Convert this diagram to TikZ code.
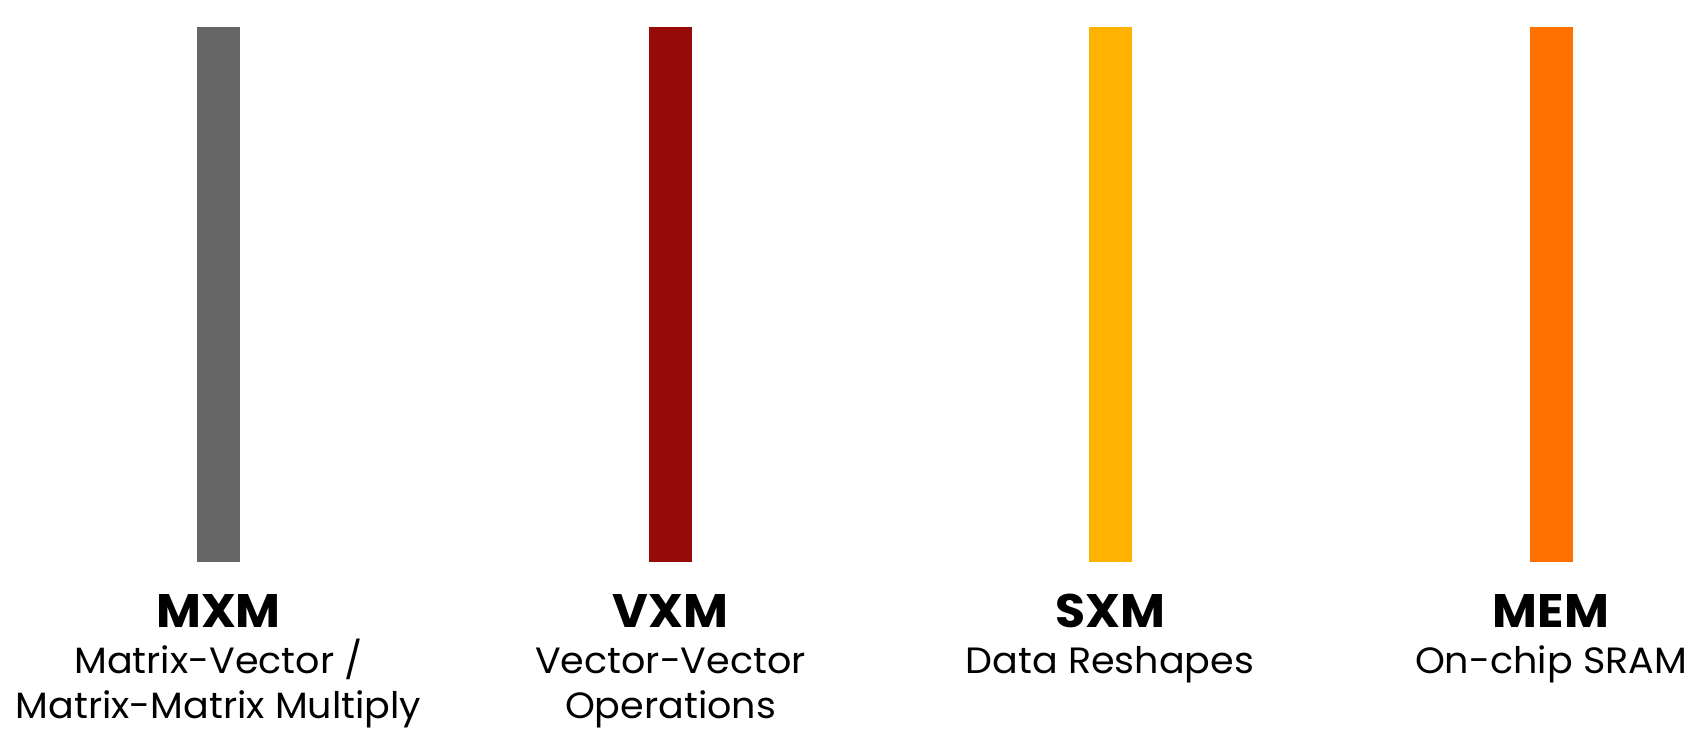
\documentclass[tikz,border=0pt]{standalone}
\usepackage{fontspec}
\setmainfont{Poppins}[FakeStretch=1.04]
\definecolor{mxmgray}{HTML}{666666}
\definecolor{vxmred}{HTML}{960A07}
\definecolor{sxmyellow}{HTML}{FFB300}
\definecolor{memorange}{HTML}{FF7000}
\tikzset{
  bar/.style={draw=none, minimum width=21.5pt, minimum height=267.5pt, inner sep=0pt},
  head/.style={anchor=base, inner sep=0pt, font=\fontsize{23.5}{28}\selectfont\bfseries},
  sub/.style={anchor=base, inner sep=0pt, font=\fontsize{18.3}{22}\selectfont},
}
\begin{document}
\begin{tikzpicture}[x=0.5pt, y=-0.5pt]
\useasboundingbox (0,0) rectangle (1702,733);
\fill[white] (0,0) rectangle (1702,733);
% bars
\node[bar, fill=mxmgray] (mxmbar) at (218.5,294.5) {};
\node[bar, fill=vxmred] (vxmbar) at (670.5,294.5) {};
\node[bar, fill=sxmyellow] (sxmbar) at (1110,294.5) {};
\node[bar, fill=memorange] (membar) at (1551,294.5) {};
% headings
\node[head] (mxm) at (218.5,627) {MXM};
\node[head] (vxm) at (670.5,627) {VXM};
\node[head] (sxm) at (1110,627) {SXM};
\node[head] (mem) at (1551,627) {MEM};
% descriptions
\node[sub] (mxm1) at (218.5,673) {Matrix-Vector /};
\node[sub] (mxm2) at (218.5,718) {Matrix-Matrix Multiply};
\node[sub] (vxm1) at (670.5,673) {Vector-Vector};
\node[sub] (vxm2) at (670.5,718) {Operations};
\node[sub] (sxm1) at (1110,673) {Data Reshapes};
\node[sub] (mem1) at (1551,673) {On-chip SRAM};
\end{tikzpicture}
\end{document}
